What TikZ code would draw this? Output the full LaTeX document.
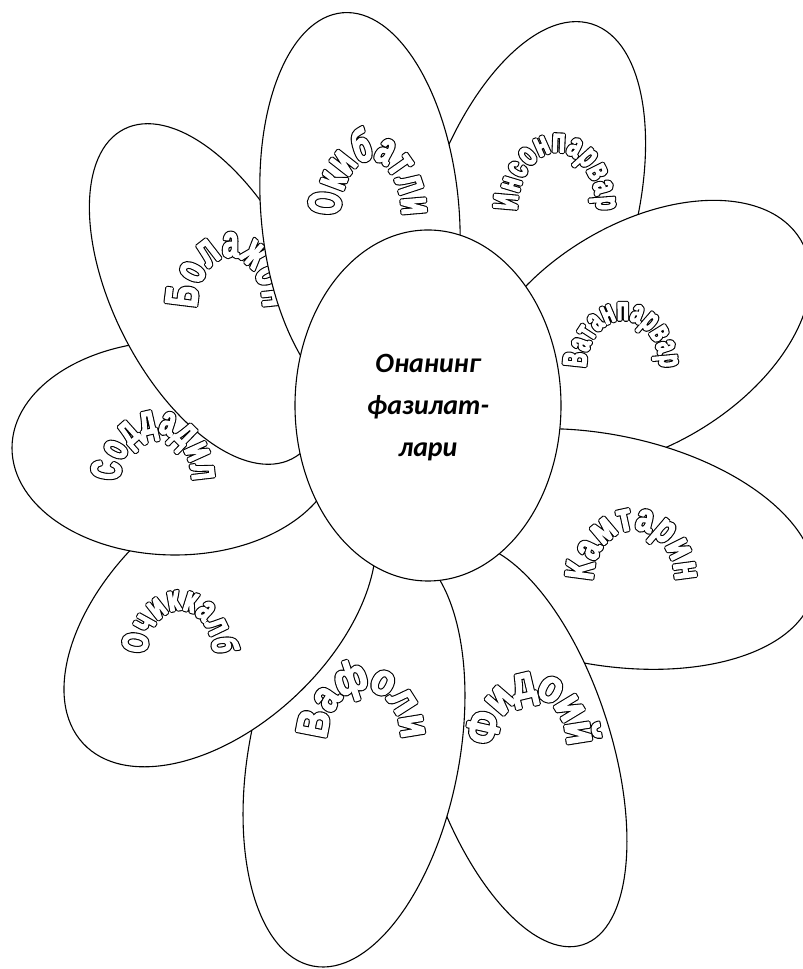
\documentclass[tikz,border=0pt]{standalone}
\usepackage{fontspec}
\setmainfont{Carlito}
\newfontfamily\wafont{Liberation Sans}
\usetikzlibrary{shapes.geometric,decorations.text}
\def\blackpass{2 Tr 1 j 1 J 3.6 w 0 G 0 g}
\def\whitepass{2 Tr 1 j 1 J 1.4 w 1 G 1 g}
\newcommand\wastyle[3]{\wafont\bfseries\addfontfeatures{FakeStretch=#2}\fontsize{#1}{#1}\selectfont\special{pdf:literal direct #3}}
\tikzset{
  petal/.style={ellipse, draw=black, fill=white, line width=1.1bp, inner sep=0pt, outer sep=0pt},
  ctext/.style={font=\bfseries\itshape\fontsize{28}{28}\selectfont, anchor=base, inner sep=0pt},
}
% #1 word, #2 cx, #3 cy (from top), #4 inner rx, #5 inner ry, #6 raise, #7 size, #8 stretch
\newcommand\archtext[8]{%
  \path[decorate, decoration={text along path, raise=-#6bp, text={|\wastyle{#7}{#8}{\blackpass}|#1}, text align={fit to path}}]
    ({#2-#4-#6},{969-#3}) arc[start angle=180, end angle=0, x radius={#4+#6}, y radius={#5+#6}];
  \path[decorate, decoration={text along path, raise=-#6bp, text={|\wastyle{#7}{#8}{\whitepass}|#1}, text align={fit to path}}]
    ({#2-#4-#6},{969-#3}) arc[start angle=180, end angle=0, x radius={#4+#6}, y radius={#5+#6}];}
\begin{document}
\begin{tikzpicture}[x=1bp,y=1bp]
\useasboundingbox (0,0) rectangle (803,969);
% Инсонпарвар
\node[petal, minimum width=208bp, minimum height=432bp, rotate=-17.5] (p1) at (527,739) {};
\archtext{Инсонпарвар}{557}{210}{40}{58}{6.5}{34}{0.64}
% Ватанпарвар
\node[petal, minimum width=370bp, minimum height=222bp, rotate=31] (p2) at (642,634) {};
% Камтарин
\node[petal, minimum width=436bp, minimum height=230bp, rotate=-11] (p3) at (600,420) {};
\archtext{Камтарин}{634}{580}{41}{50}{7}{40}{0.74}
% Фидоий
\node[petal, minimum width=184bp, minimum height=420bp, rotate=18] (p4) at (518,224) {};
% Вафоли
\node[petal, minimum width=210bp, minimum height=430bp, rotate=-11] (p5) at (354,214) {};
\archtext{Вафоли}{364}{738}{37}{48}{8}{44}{0.84}
\archtext{Фидоий}{532}{745}{35}{48}{8.5}{46}{0.82}
% Очиккалб
\node[petal, minimum width=374bp, minimum height=220bp, rotate=43] (p6) at (220,353) {};
\archtext{Очиккалб}{180}{653}{33}{43}{6.5}{36}{0.68}
% Соддадил
\node[petal, minimum width=326bp, minimum height=214bp] (p7) at (175,521) {};
% Болажон
\node[petal, minimum width=188bp, minimum height=370bp, rotate=27] (p8) at (208,675) {};
\archtext{Соддадил}{156}{480}{36}{47}{8}{42}{0.60}
\archtext{Болажон}{230}{307}{33}{50}{8.5}{46}{0.62}
% Окибатли
\node[petal, minimum width=198bp, minimum height=400bp, rotate=5] (p9) at (360,757) {};
\archtext{Окибатли}{371}{215}{31}{55}{8}{46}{0.62}
% centre
\node[petal, minimum width=266bp, minimum height=351bp] (c) at (428,563.5) {};
\node[ctext] (t1) at (428,596) {Онанинг};
\node[ctext] (t2) at (428,554) {фазилат-};
\node[ctext] (t3) at (428,512) {лари};
\archtext{Ватанпарвар}{623}{367}{37}{47}{6.5}{33}{0.60}
\end{tikzpicture}
\end{document}
